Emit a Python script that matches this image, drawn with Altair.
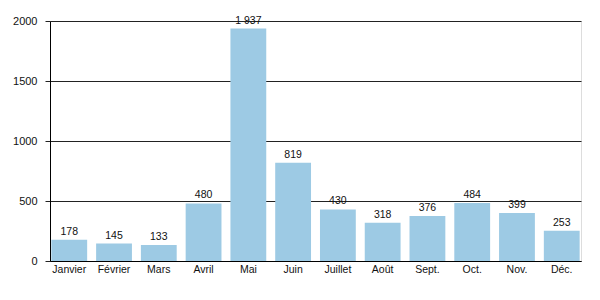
import altair as alt
import pandas as pd

months = ["Janvier", "Février", "Mars", "Avril", "Mai", "Juin",
          "Juillet", "Août", "Sept.", "Oct.", "Nov.", "Déc."]
values = [178, 145, 133, 480, 1937, 819, 430, 318, 376, 484, 399, 253]
labels = [f"{v:,}".replace(",", " ") for v in values]

df = pd.DataFrame({"mois": months, "valeur": values, "label": labels})

FONT = "Liberation Sans"

x = alt.X("mois:N", sort=months, title=None,
          scale=alt.Scale(paddingInner=0.2, paddingOuter=0.03),
          axis=alt.Axis(labelAngle=0, ticks=False, labelPadding=3,
                        domainColor="#000", labelColor="#111",
                        labelFont=FONT, labelFontSize=10.5))
y = alt.Y("valeur:Q", title=None,
          scale=alt.Scale(domain=[0, 2000], nice=False),
          axis=alt.Axis(values=list(range(0, 2001, 250)),
                        labelExpr="datum.value % 500 === 0 ? datum.value : ''",
                        format="d",
                        grid=True,
                        gridColor={"condition": {"test": "datum.value % 500 === 0", "value": "#222"}, "value": "#c8c8c8"},
                        gridWidth=1,
                        tickColor="#222",
                        tickSize={"condition": {"test": "datum.value % 500 === 0", "value": 5}, "value": 2},
                        labelPadding=8,
                        domainColor="#000", labelColor="#111",
                        labelFont=FONT, labelFontSize=11))

bars = alt.Chart(df).mark_bar(color="#9DCAE4").encode(x=x, y=y)
text = alt.Chart(df).mark_text(dy=-5, baseline="alphabetic", font=FONT,
                               fontSize=10.5, color="#111").encode(
    x=alt.X("mois:N", sort=months), y="valeur:Q", text="label:N")

chart = (bars + text).properties(
    width=531, height=240,
    autosize=alt.AutoSizeParams(type="none"),
    padding={"left": 50, "top": 21, "right": 19, "bottom": 39},
).configure_view(stroke=None).configure(background="white")

chart.save("out.html", embed_options={"renderer": "svg", "actions": False})
